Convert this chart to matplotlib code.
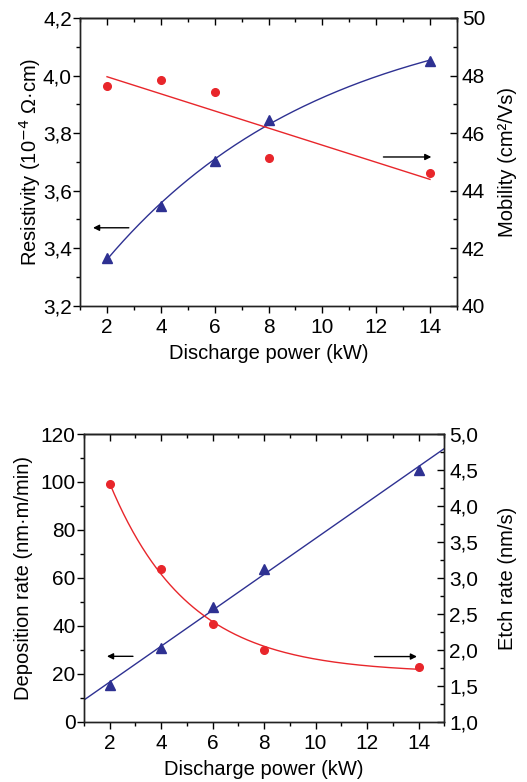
import numpy as np
import matplotlib
matplotlib.use("Agg")
import matplotlib.pyplot as plt
from matplotlib.ticker import MultipleLocator, FuncFormatter

plt.rcParams['font.family'] = ['Liberation Sans', 'DejaVu Sans']

# data
power = [2, 4, 6, 8, 14]
resistivity = [3.366, 3.548, 3.702, 3.844, 4.05]      # 10^-4 Ohm cm
mobility = [47.64, 47.84, 47.43, 45.14, 44.61]       # cm2/Vs
deposition = [15.3, 30.6, 47.7, 63.8, 105.0]         # nm m/min
etch = [4.30, 3.12, 2.36, 2.00, 1.765]               # nm/s

RED = '#e8262b'
BLUE = '#2e3192'
TICK_FS = 15
LABEL_FS = 14.5


def comma(dec):
    return FuncFormatter(lambda v, p: f"{v:.{dec}f}".replace('.', ','))


def exp_fit(x, y):
    # y = y0 + A*exp(-x/t), scan t, linear least squares for y0, A
    x = np.asarray(x, float)
    y = np.asarray(y, float)
    best = None
    for t in np.linspace(0.3, 30, 3000):
        M = np.column_stack([np.ones_like(x), np.exp(-x / t)])
        coef, *_ = np.linalg.lstsq(M, y, rcond=None)
        err = np.sum((M @ coef - y) ** 2)
        if best is None or err < best[0]:
            best = (err, t, coef)
    _, t, (y0, A) = best
    return lambda xx: y0 + A * np.exp(-np.asarray(xx) / t)


def style_axes(ax, axr):
    ax.set_xlim(1, 15)
    ax.xaxis.set_major_locator(MultipleLocator(2))
    ax.xaxis.set_minor_locator(MultipleLocator(1))
    ax.tick_params(which='both', direction='out', labelsize=TICK_FS, width=1, top=False)
    ax.tick_params(axis='y', which='both', pad=1)
    ax.tick_params(which='major', length=5)
    ax.tick_params(which='minor', length=3)
    axr.tick_params(which='both', direction='in', labelsize=TICK_FS, width=1)
    axr.tick_params(which='major', length=5)
    axr.tick_params(which='minor', length=3)
    top = ax.secondary_xaxis('top')
    top.xaxis.set_major_locator(MultipleLocator(2))
    top.xaxis.set_minor_locator(MultipleLocator(1))
    top.tick_params(which='both', direction='in', labeltop=False, width=1)
    top.tick_params(which='major', length=5)
    top.tick_params(which='minor', length=3)
    for a in (ax, axr, top):
        for s in a.spines.values():
            s.set_linewidth(1)
            s.set_color('#222222')
    ax.set_xlabel('Discharge power (kW)', fontsize=LABEL_FS, labelpad=5)


def arrow(ax, x0, x1, y):
    ax.annotate('', xy=(x1, y), xytext=(x0, y),
                arrowprops=dict(arrowstyle='-|>', color='black', lw=1,
                                mutation_scale=9, shrinkA=0, shrinkB=0))


fig = plt.figure(figsize=(5.27, 7.82), dpi=100)

# ---- top panel: resistivity / mobility
ax1 = fig.add_axes([0.152, 0.609, 0.715, 0.368])
ax1r = ax1.twinx()

xs = np.linspace(2, 14, 200)
res_fit = exp_fit(power, resistivity)
ax1.plot(xs, res_fit(xs), color=BLUE, lw=1)
ax1.plot(power, resistivity, '^', color=BLUE, ms=6.5, mec=BLUE)
p_mob = np.polyfit(power, mobility, 1)
ax1r.plot(xs, np.polyval(p_mob, xs), color=RED, lw=1)
ax1r.plot(power, mobility, 'o', color=RED, ms=5.5, mec=RED)

ax1.set_ylim(3.2, 4.2)
ax1.yaxis.set_major_locator(MultipleLocator(0.2))
ax1.yaxis.set_minor_locator(MultipleLocator(0.1))
ax1.yaxis.set_major_formatter(comma(1))
ax1r.set_ylim(40, 50)
ax1r.yaxis.set_major_locator(MultipleLocator(2))
ax1r.yaxis.set_minor_locator(MultipleLocator(1))
style_axes(ax1, ax1r)
ax1.set_ylabel('Resistivity (10$^{-4}$ \u03a9\u00b7cm)', fontsize=LABEL_FS, labelpad=0)
ax1r.set_ylabel('Mobility (cm\u00b2/Vs)', fontsize=LABEL_FS, labelpad=9)

arrow(ax1, 2.81, 1.48, 3.471)
arrow(ax1, 12.27, 14.05, 3.717)

# ---- bottom panel: deposition rate / etch rate
ax2 = fig.add_axes([0.159, 0.077, 0.684, 0.368])
ax2r = ax2.twinx()

xl = np.linspace(1, 15, 200)
p_dep = np.polyfit(power, deposition, 1)
ax2.plot(xl, np.polyval(p_dep, xl), color=BLUE, lw=1)
ax2.plot(power, deposition, '^', color=BLUE, ms=6.5, mec=BLUE)
etch_fit = exp_fit(power, etch)
ax2r.plot(xs, etch_fit(xs), color=RED, lw=1)
ax2r.plot(power, etch, 'o', color=RED, ms=5.5, mec=RED)

ax2.set_ylim(0, 120)
ax2.yaxis.set_major_locator(MultipleLocator(20))
ax2.yaxis.set_minor_locator(MultipleLocator(10))
ax2r.set_ylim(1.0, 5.0)
ax2r.yaxis.set_major_locator(MultipleLocator(0.5))
ax2r.yaxis.set_minor_locator(MultipleLocator(0.25))
ax2r.yaxis.set_major_formatter(comma(1))
style_axes(ax2, ax2r)
ax2.set_ylabel('Deposition rate (nm\u00b7m/min)', fontsize=LABEL_FS, labelpad=5)
ax2r.set_ylabel('Etch rate (nm/s)', fontsize=LABEL_FS, labelpad=14)

arrow(ax2, 2.91, 1.90, 27.3)
arrow(ax2, 12.29, 13.94, 27.2)

fig.savefig('out.png', dpi=100)
